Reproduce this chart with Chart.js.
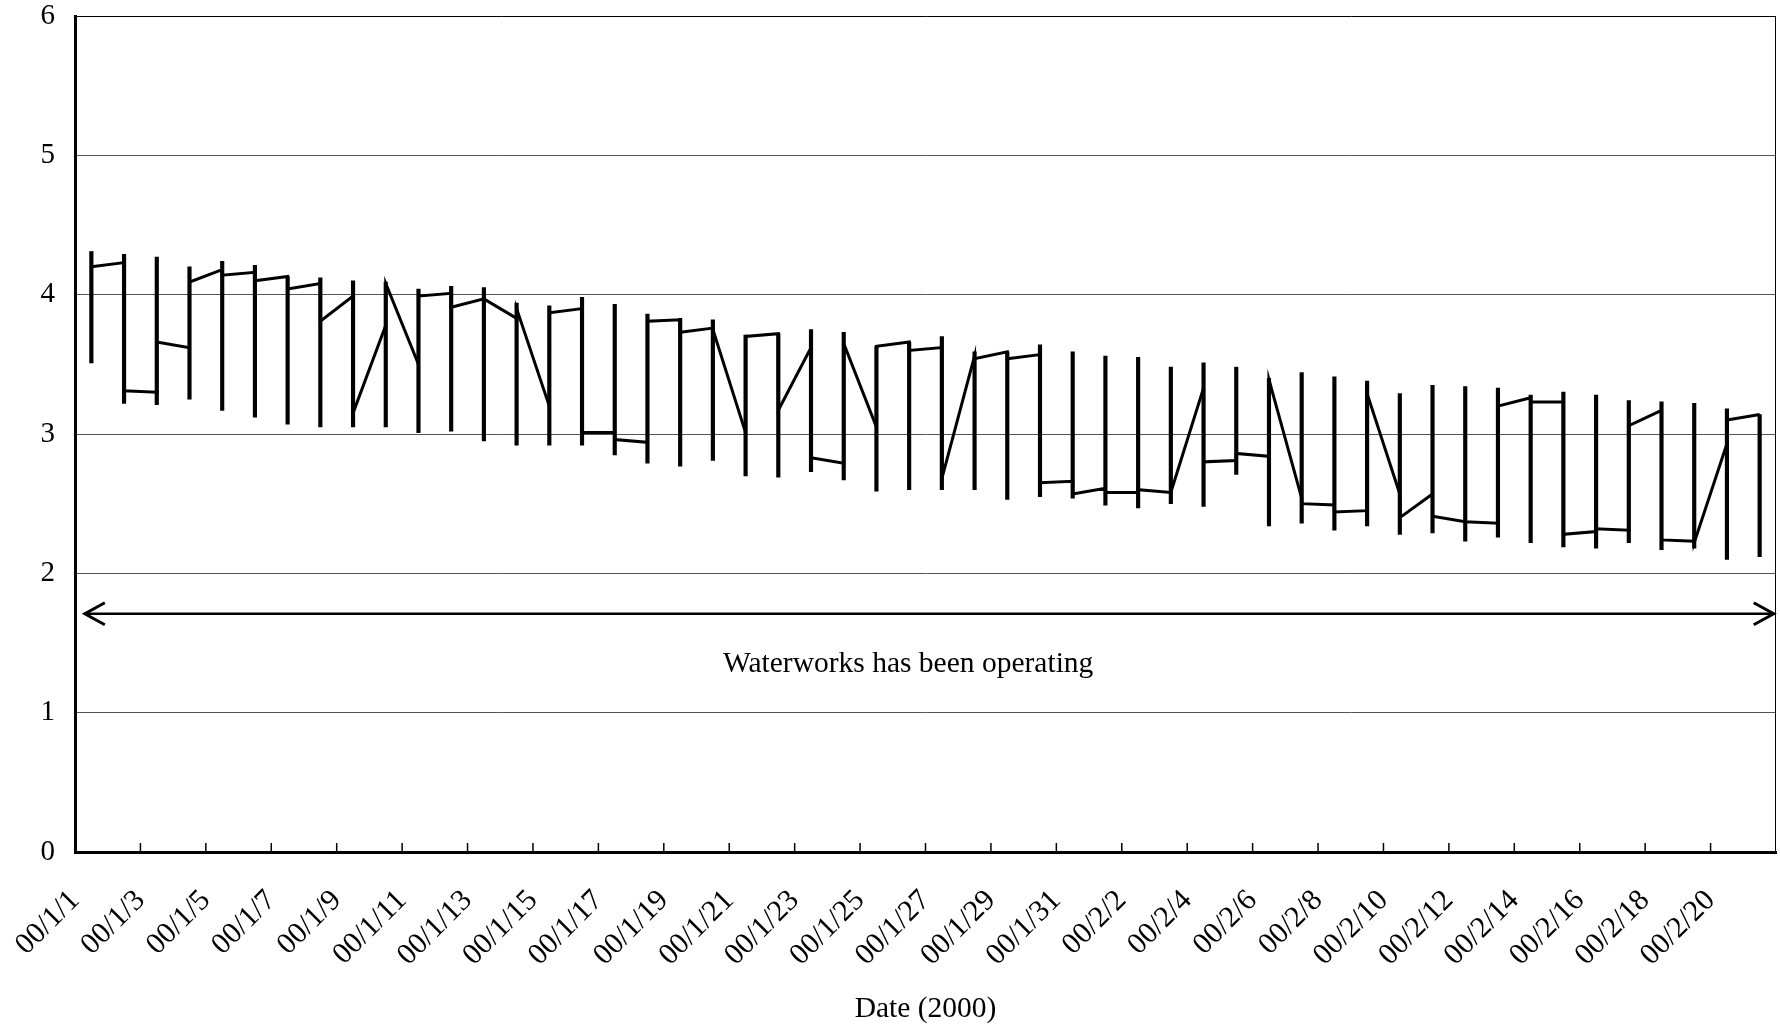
<!DOCTYPE html>
<html>
<head>
<meta charset="utf-8">
<script src="https://cdn.jsdelivr.net/npm/chart.js@4/dist/chart.umd.min.js"></script>
<style>
  html, body { margin: 0; padding: 0; background: #fff; }
  canvas { display: block; }
</style>
</head>
<body>
<canvas id="c" width="1780" height="1033" style="width:1780px;height:1033px"></canvas>
<script>
// ---- data ----
const dates = ['00/1/1','00/1/2','00/1/3','00/1/4','00/1/5','00/1/6','00/1/7','00/1/8','00/1/9','00/1/10',
  '00/1/11','00/1/12','00/1/13','00/1/14','00/1/15','00/1/16','00/1/17','00/1/18','00/1/19','00/1/20',
  '00/1/21','00/1/22','00/1/23','00/1/24','00/1/25','00/1/26','00/1/27','00/1/28','00/1/29','00/1/30',
  '00/1/31','00/2/1','00/2/2','00/2/3','00/2/4','00/2/5','00/2/6','00/2/7','00/2/8','00/2/9',
  '00/2/10','00/2/11','00/2/12','00/2/13','00/2/14','00/2/15','00/2/16','00/2/17','00/2/18','00/2/19',
  '00/2/20','00/2/21'];

const high = [4.31,4.29,4.27,4.20,4.24,4.21,4.13,4.12,4.10,4.09,
  4.04,4.06,4.05,3.94,3.92,3.98,3.93,3.86,3.83,3.82,
  3.71,3.72,3.75,3.73,3.63,3.66,3.70,3.59,3.59,3.64,
  3.59,3.56,3.55,3.48,3.51,3.48,3.40,3.44,3.41,3.38,
  3.29,3.35,3.34,3.33,3.28,3.30,3.28,3.24,3.23,3.22,
  3.18,3.14];

const low = [3.51,3.22,3.21,3.25,3.17,3.12,3.07,3.05,3.05,3.05,
  3.01,3.02,2.95,2.92,2.92,2.92,2.85,2.79,2.77,2.81,
  2.70,2.69,2.73,2.67,2.59,2.60,2.60,2.60,2.53,2.55,
  2.54,2.49,2.47,2.50,2.48,2.71,2.34,2.36,2.31,2.34,
  2.28,2.29,2.23,2.26,2.22,2.19,2.18,2.22,2.17,2.18,
  2.10,2.12];

// value where the line arrives at each day, and where it leaves it
const lineIn = [null,4.23,3.30,3.62,4.18,4.16,4.13,4.08,3.99,3.78,
  3.50,4.01,3.97,3.83,3.20,3.90,3.01,2.94,3.82,3.76,
  3.01,3.72,3.62,2.79,3.05,3.66,3.62,3.56,3.59,3.57,
  2.66,2.61,2.58,2.58,3.33,2.81,2.84,2.54,2.49,2.45,
  2.57,2.57,2.37,2.36,3.26,3.23,2.30,2.31,3.17,2.23,
  2.93,3.14];

const lineOut = [4.20,3.31,3.66,4.09,4.14,4.10,4.04,3.81,3.15,4.08,
  3.99,3.91,3.97,3.90,3.87,3.01,2.96,3.81,3.73,3.75,
  3.70,3.17,2.83,3.65,3.63,3.60,2.68,3.54,3.54,2.65,
  2.57,2.58,2.60,2.58,2.80,2.86,3.39,2.50,2.44,3.29,
  2.40,2.41,2.37,3.20,3.23,2.28,2.32,3.06,2.24,2.22,
  3.10,null];

// tick labels every second day (tick k sits at the left edge of day k)
const xTickLabels = ['00/1/1','00/1/3','00/1/5','00/1/7','00/1/9','00/1/11','00/1/13','00/1/15','00/1/17',
  '00/1/19','00/1/21','00/1/23','00/1/25','00/1/27','00/1/29','00/1/31','00/2/2','00/2/4','00/2/6',
  '00/2/8','00/2/10','00/2/12','00/2/14','00/2/16','00/2/18','00/2/20'];
const yTicks = [0,1,2,3,4,5,6];
const annotationText = 'Waterworks has been operating';
const arrowY = 1.71, arrowX0 = 0.3, arrowX1 = 51.93;
const textX = 25.47, textY = 1.35;

// ---- build datasets ----
const barPts = dates.map((d, i) => ({ x: i + 0.5, y: [low[i], high[i]] }));
const linePts = [];
dates.forEach((d, i) => {
  if (lineIn[i] !== null) linePts.push({ x: i + 0.5, y: lineIn[i] });
  if (lineOut[i] !== null) linePts.push({ x: i + 0.5, y: lineOut[i] });
});

const FONT = 'Liberation Serif, "Times New Roman", serif';
Chart.defaults.font.family = FONT;
Chart.defaults.color = '#000';

const decor = {
  id: 'decor',
  afterDatasetsDraw(chart) {
    const { ctx, chartArea: a, scales: { x, y } } = chart;
    ctx.save();
    // right border
    ctx.strokeStyle = '#000'; ctx.lineWidth = 1;
    ctx.beginPath(); ctx.moveTo(a.right - 0.5, a.top); ctx.lineTo(a.right - 0.5, a.bottom); ctx.stroke();
    // inside tick marks
    ctx.lineWidth = 1.5;
    x.ticks.forEach(t => {
      if (t.value <= x.min || t.value >= x.max) return;
      const px = x.getPixelForValue(t.value);
      ctx.beginPath(); ctx.moveTo(px, a.bottom); ctx.lineTo(px, a.bottom - 9); ctx.stroke();
    });
    // double arrow
    const ay = y.getPixelForValue(arrowY);
    const ax0 = x.getPixelForValue(arrowX0), ax1 = x.getPixelForValue(arrowX1);
    ctx.lineWidth = 2.5;
    ctx.beginPath(); ctx.moveTo(ax0, ay); ctx.lineTo(ax1, ay); ctx.stroke();
    ctx.lineWidth = 3;
    ctx.beginPath();
    ctx.moveTo(ax0 + 20, ay - 11); ctx.lineTo(ax0, ay); ctx.lineTo(ax0 + 20, ay + 11);
    ctx.moveTo(ax1 - 20, ay - 11); ctx.lineTo(ax1, ay); ctx.lineTo(ax1 - 20, ay + 11);
    ctx.stroke();
    // text
    ctx.fillStyle = '#000';
    ctx.font = '29.5px ' + FONT;
    ctx.textAlign = 'center'; ctx.textBaseline = 'middle';
    ctx.fillText(annotationText, x.getPixelForValue(textX), y.getPixelForValue(textY));
    ctx.restore();
  }
};

new Chart(document.getElementById('c'), {
  type: 'line',
  data: {
    datasets: [
      { type: 'line', data: linePts, borderColor: '#000', borderWidth: 3, pointRadius: 0, tension: 0, fill: false, order: 0 },
      { type: 'bar', data: barPts, backgroundColor: '#000', borderWidth: 0, barThickness: 3.5, order: 1 }
    ]
  },
  options: {
    responsive: false,
    animation: false,
    events: [],
    plugins: { legend: { display: false }, tooltip: { enabled: false } },
    layout: { padding: { top: 16, right: 4, left: 0, bottom: 0 } },
    scales: {
      x: {
        type: 'linear', min: 0, max: 52, offset: false,
        afterBuildTicks(s) { s.ticks = xTickLabels.map((l, k) => ({ value: 2 * k })); },
        ticks: {
          autoSkip: false, maxRotation: 45, minRotation: 45, padding: 31,
          font: { size: 30 }, color: '#000',
          callback: (v) => (xTickLabels[v / 2] !== undefined ? xTickLabels[v / 2] : '')
        },
        grid: { display: true, offset: false, drawOnChartArea: false, drawTicks: false },
        border: { color: '#000', width: 3 },
        title: { display: true, text: 'Date (2000)', font: { size: 29.5 }, color: '#000', padding: { top: 0, bottom: 6 } },
        afterFit(s) { s.height = 181; s.paddingLeft = 0; s.paddingRight = 0; }
      },
      y: {
        min: 0, max: 6,
        afterBuildTicks(s) { s.ticks = yTicks.map(v => ({ value: v })); },
        ticks: { font: { size: 29 }, color: '#000', padding: 20 },
        grid: { color: (c) => (c.tick && c.tick.value === 6 ? '#000' : '#555'), lineWidth: 1, drawTicks: false },
        border: { color: '#000', width: 3 },
        afterFit(s) { s.width = 75; s.paddingTop = 0; s.paddingBottom = 0; }
      }
    }
  },
  plugins: [decor]
});
</script>
</body>
</html>
